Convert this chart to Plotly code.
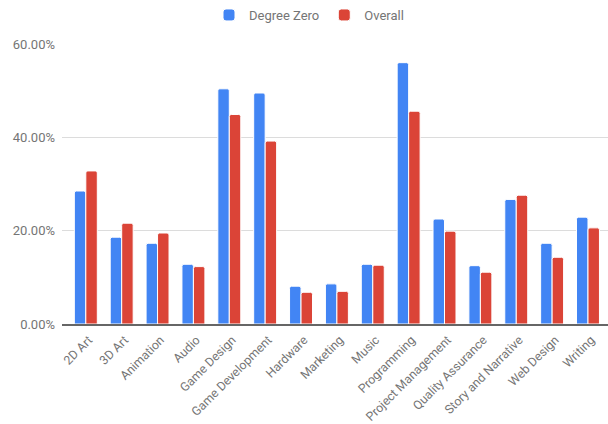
import plotly.graph_objects as go

categories = ["2D Art", "3D Art", "Animation", "Audio", "Game Design", "Game Development",
              "Hardware", "Marketing", "Music", "Programming", "Project Management",
              "Quality Assurance", "Story and Narrative", "Web Design", "Writing"]
degree_zero = [0.285, 0.186, 0.173, 0.128, 0.504, 0.495, 0.081, 0.086, 0.128, 0.560,
               0.225, 0.125, 0.267, 0.173, 0.229]
overall = [0.328, 0.216, 0.195, 0.123, 0.449, 0.392, 0.068, 0.070, 0.126, 0.456,
           0.199, 0.111, 0.276, 0.143, 0.206]
y_ticks = [0, 0.2, 0.4, 0.6]

BLUE = "#4285F4"
RED = "#DB4437"
FONT = "Roboto"
GREY = "#757575"

fig = go.Figure()
fig.add_trace(go.Bar(name="Degree Zero", x=list(range(len(categories))), y=degree_zero,
                     marker=dict(color=BLUE, line=dict(color="white", width=1))))
fig.add_trace(go.Bar(name="Overall", x=list(range(len(categories))), y=overall,
                     marker=dict(color=RED, line=dict(color="white", width=1))))

fig.update_layout(
    width=608, height=424,
    margin=dict(l=62, r=0, t=44, b=100, autoexpand=False),
    paper_bgcolor="white", plot_bgcolor="white",
    barmode="group", bargap=0.36, bargroupgap=0.0, barcornerradius=2,
    font=dict(family=FONT, size=13, color=GREY),
    legend=dict(orientation="h", x=0.5 + 5 / 608, xanchor="center", xref="container",
                y=(424 - 15) / 424, yref="container", yanchor="middle",
                font=dict(family=FONT, size=13, color=GREY), itemclick=False),
    xaxis=dict(tickmode="array", tickvals=list(range(len(categories))), ticktext=categories,
               tickangle=-45, range=[-0.664, 14.558], showgrid=False,
               showline=True, linecolor="#666666", linewidth=2,
               ticklabelstandoff=2, ticklabelshift=3, automargin=False,
               tickfont=dict(family=FONT, size=12.3, color=GREY), fixedrange=True),
    yaxis=dict(range=[0, 0.6], tickvals=y_ticks, tickformat=".2%",
               showgrid=True, gridcolor="#dcdcdc", gridwidth=1, zeroline=False,
               ticklabelstandoff=6, automargin=False,
               tickfont=dict(family=FONT, size=13, color=GREY), fixedrange=True),
)

fig.write_html("out.html")
